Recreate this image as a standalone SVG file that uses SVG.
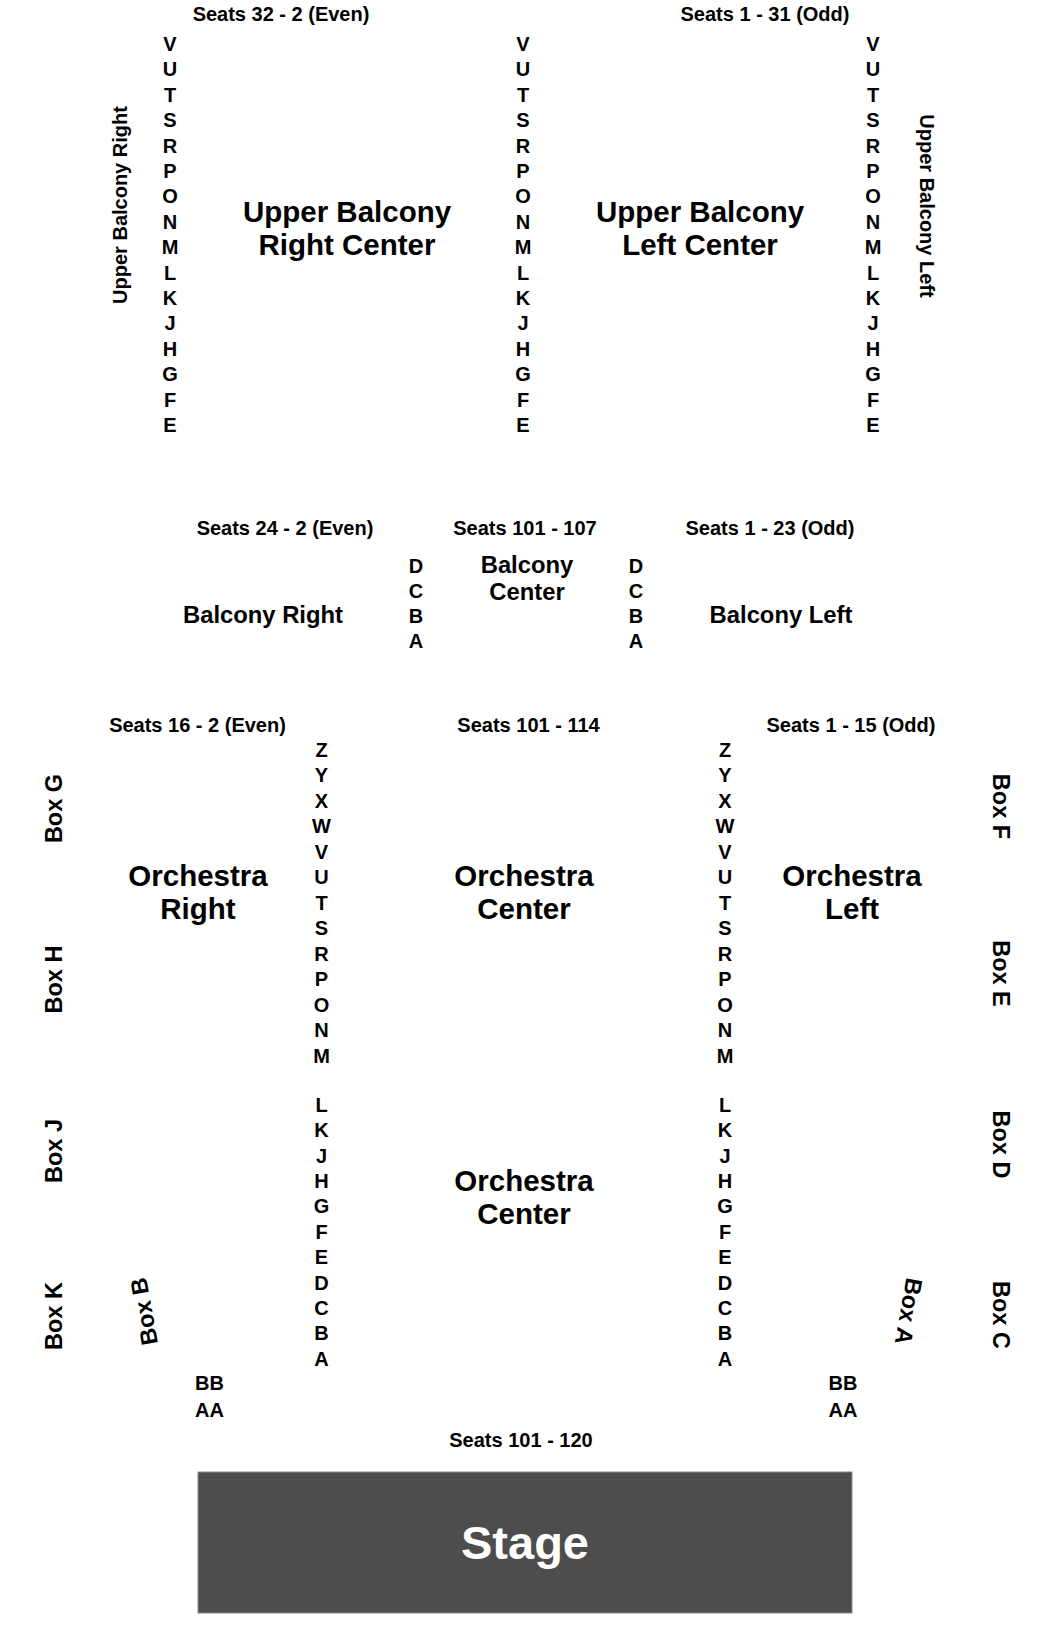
<svg xmlns="http://www.w3.org/2000/svg" width="1050" height="1646" viewBox="0 0 1050 1646">
<style>
text{font-family:"Liberation Sans",Arial,Helvetica,sans-serif;font-weight:bold;fill:#000;text-anchor:middle}
.seat{font-size:20px}
.row{font-size:20px}
.title{font-size:29.5px}
.bal{font-size:23.8px}
.box{font-size:23.5px}
.side{font-size:20px}
.stage-text{font-size:47px;fill:#fff}
</style>
<rect x="0" y="0" width="1050" height="1646" fill="#fff"/>
<g id="upper-balcony">
  <text class="seat" x="281" y="21">Seats 32 - 2 (Even)</text>
  <text class="seat" x="765" y="21">Seats 1 - 31 (Odd)</text>
  <text class="side" x="127" y="205" transform="rotate(-90 127 205)">Upper Balcony Right</text>
  <text class="side" x="920" y="206" transform="rotate(90 920 206)">Upper Balcony Left</text>
  <text class="title" x="347" y="222">Upper Balcony</text>
  <text class="title" x="347" y="255">Right Center</text>
  <text class="title" x="700" y="222">Upper Balcony</text>
  <text class="title" x="700" y="255">Left Center</text>
  <g id="ub-rows-1">
    <text class="row" x="170" y="51">V<tspan x="170" dy="25.4">U</tspan><tspan x="170" dy="25.4">T</tspan><tspan x="170" dy="25.4">S</tspan><tspan x="170" dy="25.4">R</tspan><tspan x="170" dy="25.4">P</tspan><tspan x="170" dy="25.4">O</tspan><tspan x="170" dy="25.4">N</tspan><tspan x="170" dy="25.4">M</tspan><tspan x="170" dy="25.4">L</tspan><tspan x="170" dy="25.4">K</tspan><tspan x="170" dy="25.4">J</tspan><tspan x="170" dy="25.4">H</tspan><tspan x="170" dy="25.4">G</tspan><tspan x="170" dy="25.4">F</tspan><tspan x="170" dy="25.4">E</tspan></text>
  </g>
  <g id="ub-rows-2">
    <text class="row" x="523" y="51">V<tspan x="523" dy="25.4">U</tspan><tspan x="523" dy="25.4">T</tspan><tspan x="523" dy="25.4">S</tspan><tspan x="523" dy="25.4">R</tspan><tspan x="523" dy="25.4">P</tspan><tspan x="523" dy="25.4">O</tspan><tspan x="523" dy="25.4">N</tspan><tspan x="523" dy="25.4">M</tspan><tspan x="523" dy="25.4">L</tspan><tspan x="523" dy="25.4">K</tspan><tspan x="523" dy="25.4">J</tspan><tspan x="523" dy="25.4">H</tspan><tspan x="523" dy="25.4">G</tspan><tspan x="523" dy="25.4">F</tspan><tspan x="523" dy="25.4">E</tspan></text>
  </g>
  <g id="ub-rows-3">
    <text class="row" x="873" y="51">V<tspan x="873" dy="25.4">U</tspan><tspan x="873" dy="25.4">T</tspan><tspan x="873" dy="25.4">S</tspan><tspan x="873" dy="25.4">R</tspan><tspan x="873" dy="25.4">P</tspan><tspan x="873" dy="25.4">O</tspan><tspan x="873" dy="25.4">N</tspan><tspan x="873" dy="25.4">M</tspan><tspan x="873" dy="25.4">L</tspan><tspan x="873" dy="25.4">K</tspan><tspan x="873" dy="25.4">J</tspan><tspan x="873" dy="25.4">H</tspan><tspan x="873" dy="25.4">G</tspan><tspan x="873" dy="25.4">F</tspan><tspan x="873" dy="25.4">E</tspan></text>
  </g>
</g>
<g id="balcony">
  <text class="seat" x="285" y="535">Seats 24 - 2 (Even)</text>
  <text class="seat" x="525" y="535">Seats 101 - 107</text>
  <text class="seat" x="770" y="535">Seats 1 - 23 (Odd)</text>
  <text class="bal" x="263" y="623">Balcony Right</text>
  <text class="bal" x="527" y="573">Balcony</text>
  <text class="bal" x="527" y="600">Center</text>
  <text class="bal" x="781" y="623">Balcony Left</text>
  <text class="row" x="416" y="573.3">D<tspan x="416" dy="25">C</tspan><tspan x="416" dy="25">B</tspan><tspan x="416" dy="25">A</tspan></text>
  <text class="row" x="636" y="573.3">D<tspan x="636" dy="25">C</tspan><tspan x="636" dy="25">B</tspan><tspan x="636" dy="25">A</tspan></text>
</g>
<g id="orchestra">
  <text class="seat" x="197.5" y="731.7">Seats 16 - 2 (Even)</text>
  <text class="seat" x="528.5" y="731.7">Seats 101 - 114</text>
  <text class="seat" x="851" y="731.7">Seats 1 - 15 (Odd)</text>
  <text class="title" x="198" y="886">Orchestra</text>
  <text class="title" x="198" y="919">Right</text>
  <text class="title" x="524" y="886">Orchestra</text>
  <text class="title" x="524" y="919">Center</text>
  <text class="title" x="852" y="886">Orchestra</text>
  <text class="title" x="852" y="919">Left</text>
  <text class="title" x="524" y="1191">Orchestra</text>
  <text class="title" x="524" y="1224">Center</text>
  <g id="orch-rows-1">
    <text class="row" x="321.5" y="756.7">Z<tspan x="321.5" dy="25.5">Y</tspan><tspan x="321.5" dy="25.5">X</tspan><tspan x="321.5" dy="25.5">W</tspan><tspan x="321.5" dy="25.5">V</tspan><tspan x="321.5" dy="25.5">U</tspan><tspan x="321.5" dy="25.5">T</tspan><tspan x="321.5" dy="25.5">S</tspan><tspan x="321.5" dy="25.5">R</tspan><tspan x="321.5" dy="25.5">P</tspan><tspan x="321.5" dy="25.5">O</tspan><tspan x="321.5" dy="25.5">N</tspan><tspan x="321.5" dy="25.5">M</tspan></text>
    <text class="row" x="321.5" y="1111.7">L<tspan x="321.5" dy="25.4">K</tspan><tspan x="321.5" dy="25.4">J</tspan><tspan x="321.5" dy="25.4">H</tspan><tspan x="321.5" dy="25.4">G</tspan><tspan x="321.5" dy="25.4">F</tspan><tspan x="321.5" dy="25.4">E</tspan><tspan x="321.5" dy="25.4">D</tspan><tspan x="321.5" dy="25.4">C</tspan><tspan x="321.5" dy="25.4">B</tspan><tspan x="321.5" dy="25.4">A</tspan></text>
  </g>
  <g id="orch-rows-2">
    <text class="row" x="725" y="756.7">Z<tspan x="725" dy="25.5">Y</tspan><tspan x="725" dy="25.5">X</tspan><tspan x="725" dy="25.5">W</tspan><tspan x="725" dy="25.5">V</tspan><tspan x="725" dy="25.5">U</tspan><tspan x="725" dy="25.5">T</tspan><tspan x="725" dy="25.5">S</tspan><tspan x="725" dy="25.5">R</tspan><tspan x="725" dy="25.5">P</tspan><tspan x="725" dy="25.5">O</tspan><tspan x="725" dy="25.5">N</tspan><tspan x="725" dy="25.5">M</tspan></text>
    <text class="row" x="725" y="1111.7">L<tspan x="725" dy="25.4">K</tspan><tspan x="725" dy="25.4">J</tspan><tspan x="725" dy="25.4">H</tspan><tspan x="725" dy="25.4">G</tspan><tspan x="725" dy="25.4">F</tspan><tspan x="725" dy="25.4">E</tspan><tspan x="725" dy="25.4">D</tspan><tspan x="725" dy="25.4">C</tspan><tspan x="725" dy="25.4">B</tspan><tspan x="725" dy="25.4">A</tspan></text>
  </g>
  <text class="row" x="209.5" y="1390">BB</text>
  <text class="row" x="209.5" y="1417">AA</text>
  <text class="row" x="843" y="1390">BB</text>
  <text class="row" x="843" y="1417">AA</text>
  <text class="seat" x="521" y="1447">Seats 101 - 120</text>
</g>
<g id="boxes">
  <text id="box-g" class="box" x="62" y="808.5" transform="rotate(-90 62 808.5)">Box G</text>
  <text id="box-h" class="box" x="62" y="979.5" transform="rotate(-90 62 979.5)">Box H</text>
  <text id="box-j" class="box" x="62" y="1151" transform="rotate(-90 62 1151)">Box J</text>
  <text id="box-k" class="box" x="62" y="1316" transform="rotate(-90 62 1316)">Box K</text>
  <text id="box-b" class="box" x="152" y="1310" transform="rotate(-100 152 1310)">Box B</text>
  <text id="box-f" class="box" x="993" y="806.5" transform="rotate(90 993 806.5)">Box F</text>
  <text id="box-e" class="box" x="993" y="973.5" transform="rotate(90 993 973.5)">Box E</text>
  <text id="box-d" class="box" x="993" y="1144.5" transform="rotate(90 993 1144.5)">Box D</text>
  <text id="box-c" class="box" x="993" y="1315" transform="rotate(90 993 1315)">Box C</text>
  <text id="box-a" class="box" x="900.6" y="1310" transform="rotate(100 900.6 1310)">Box A</text>
</g>
<g id="stage">
  <rect x="198" y="1472" width="654" height="141" fill="#4d4d4d" stroke="#8a8a8a" stroke-width="1"/>
  <text class="stage-text" x="525" y="1559">Stage</text>
</g>
<g id="connectors"/>
</svg>
